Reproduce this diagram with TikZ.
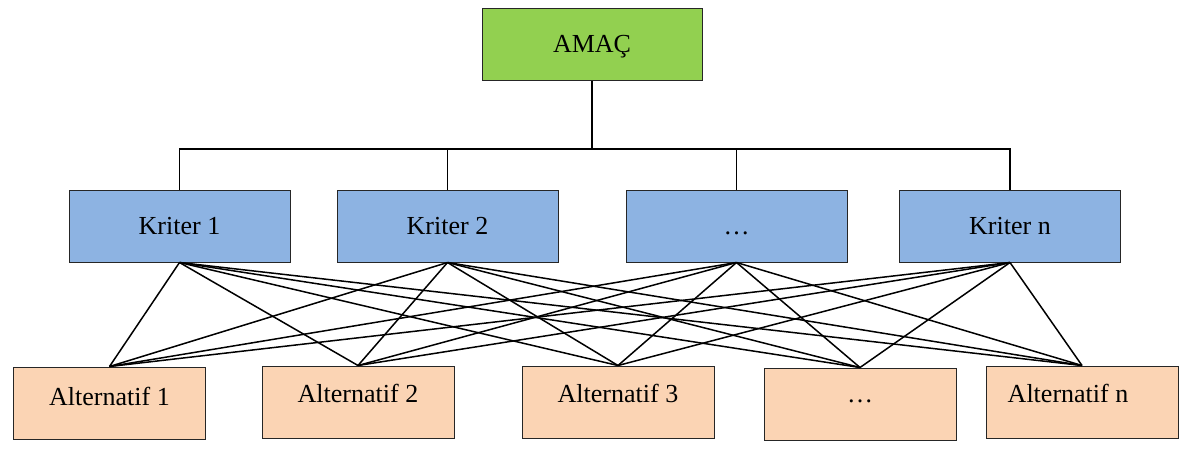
\documentclass[tikz,border=0pt]{standalone}
\usepackage{fontspec}
\setmainfont{Liberation Serif}
\definecolor{goalgreen}{HTML}{92D050}
\definecolor{critblue}{HTML}{8DB3E2}
\definecolor{altpeach}{HTML}{FBD4B4}
\definecolor{edgegray}{HTML}{262626}
\begin{document}
\begin{tikzpicture}[x=1pt,y=-1pt,
  box/.style={draw=edgegray,line width=1pt,inner sep=0pt,minimum height=72pt,
    text height=17.2pt,text depth=0pt,
    font=\fontsize{26}{30}\selectfont,anchor=center},
  goal/.style={box,fill=goalgreen,minimum width=220pt},
  crit/.style={box,fill=critblue,minimum width=221pt},
  alt/.style={box,fill=altpeach,minimum width=192pt},
  link/.style={line width=1.5pt,black}]
\useasboundingbox (0,0) rectangle (1182,459);

% goal
\node[goal] (amac) at (592,44) {AMAÇ};

% criteria
\node[crit] (k1) at (179.5,226) {Kriter 1};
\node[crit] (k2) at (447.5,226) {Kriter 2};
\node[crit] (k3) at (736.5,226) {…};
\node[crit] (k4) at (1010,226) {Kriter n};

% alternatives
\node[alt] (a1) at (109.5,403) {\raisebox{6pt}{Alternatif 1}};
\node[alt] (a2) at (358,402) {\raisebox{8pt}{Alternatif 2}};
\node[alt] (a3) at (618,402) {\raisebox{8pt}{Alternatif 3}};
\node[alt] (a4) at (860,404) {\raisebox{10.6pt}{…}};
\node[alt] (a5) at (1082,402) {\raisebox{8pt}{Alternatif n}\kern28pt};

% goal to criteria bus
\coordinate (bus) at (592,149);
\draw[link] (amac.south) -- (bus);
\draw[link] (k1.north) |- (bus) -| (k4.north);
\draw[link] (k2.north) -- (k2.north |- bus);
\draw[link] (k3.north) -- (k3.north |- bus);

% every criterion to every alternative
\foreach \k in {k1,k2,k3,k4}{
  \foreach \a in {a1,a2,a3,a4,a5}{
    \draw[link] (\k.south) -- (\a.north);
  }
}
\end{tikzpicture}
\end{document}
